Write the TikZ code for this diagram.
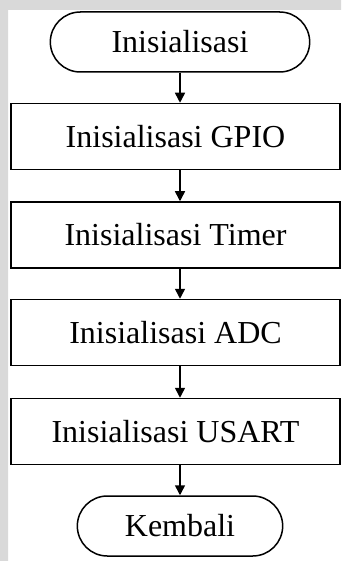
\documentclass[tikz,border=0pt]{standalone}
\usepackage{fontspec}
\setmainfont{Liberation Serif}
\usetikzlibrary{shapes.misc,arrows.meta}
\begin{document}
\begin{tikzpicture}[x=1pt,y=-1pt,font=\fontsize{32}{36}\selectfont,
	term/.style={draw,line width=1.5pt,rounded rectangle,minimum height=60pt},
	proc/.style={draw,line width=1.5pt,minimum width=329pt,minimum height=66pt},
	flow/.style={line width=1.5pt,-{Triangle[width=10pt,length=10pt]}}]
			\fill[gray!30] (0,0) rectangle (341,10) (0,0) rectangle (8,561);
			\useasboundingbox (0,0) rectangle (341,561);
			\node[term,minimum width=266pt] (t0) at (180,42) {Inisialisasi};
			\foreach \y/\gt[count=\i] in {136.5/GPIO,235/Timer,332.5/ADC,431.5/USART}\node[proc] (p\i) at (175.5,\y) {Inisialisasi \gt};
			\node[term,minimum width=212pt] (t1) at (180,526) {Kembali};
			\foreach \a/\b in {t0/p1,p1/p2,p2/p3,p3/p4,p4/t1}\draw[flow] (\a.south -| t0) -- (\b.north -| t0);
		\end{tikzpicture}
\end{document}
